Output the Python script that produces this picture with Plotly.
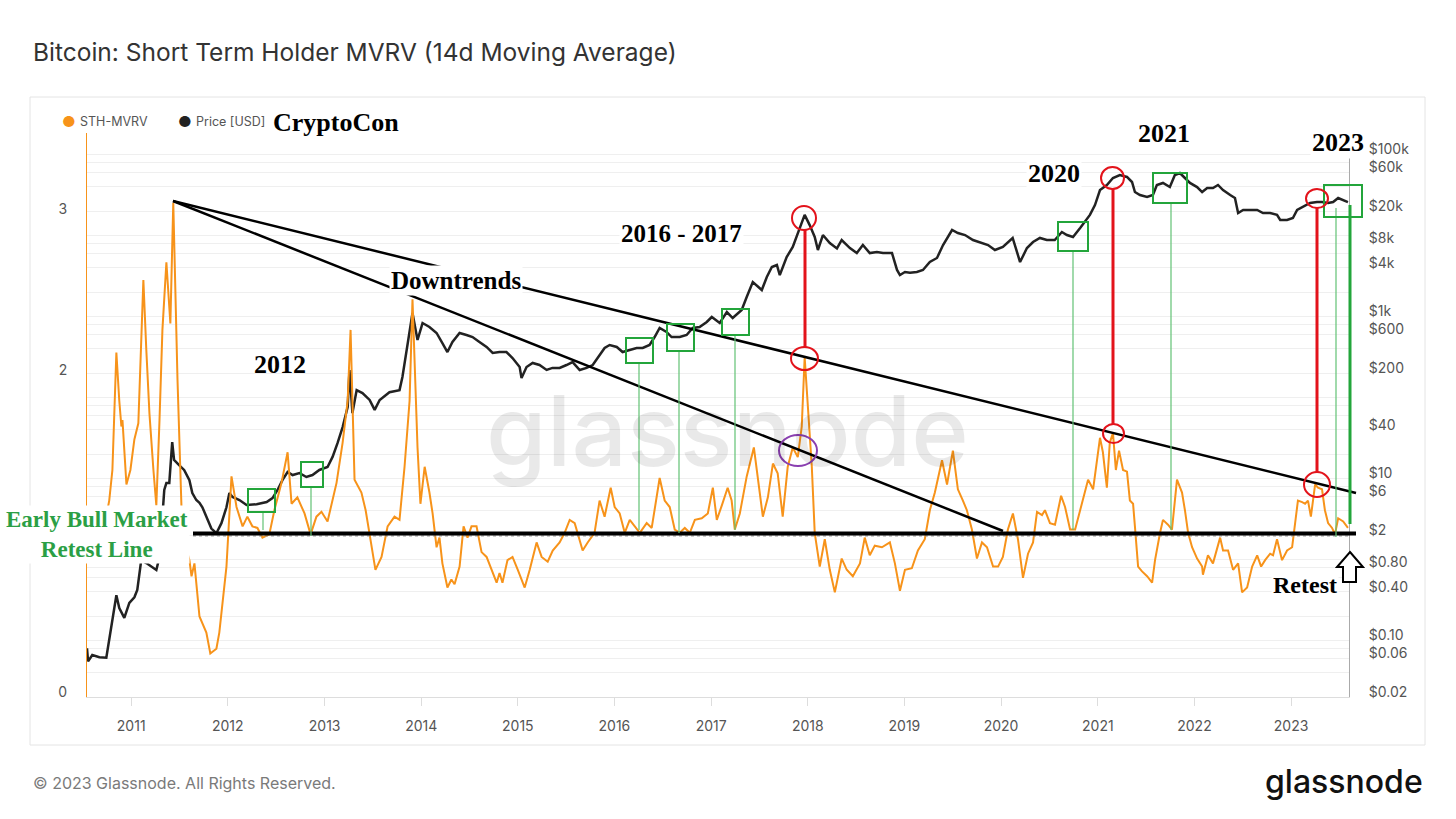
import plotly.graph_objects as go

# STH-MVRV (14d MA)
mvrv_dates = [
    "2010-07-19", "2010-09-03", "2010-10-03", "2010-10-10", "2010-10-22", "2010-11-06", "2010-11-17",
    "2010-11-25", "2010-11-29", "2010-12-14", "2010-12-29", "2011-01-13", "2011-01-28", "2011-02-16",
    "2011-02-27", "2011-03-11", "2011-03-26", "2011-04-06", "2011-04-18", "2011-04-29", "2011-05-14",
    "2011-05-29", "2011-06-09", "2011-06-17", "2011-06-25", "2011-07-10", "2011-07-25", "2011-08-09",
    "2011-08-17", "2011-08-28", "2011-09-16", "2011-10-12", "2011-10-27", "2011-11-19", "2011-11-30",
    "2011-12-27", "2012-01-15", "2012-02-03", "2012-02-26", "2012-03-15", "2012-04-03", "2012-04-22",
    "2012-05-11", "2012-06-06", "2012-06-25", "2012-07-22", "2012-08-14", "2012-08-29", "2012-09-20",
    "2012-10-17", "2012-11-09", "2012-12-01", "2012-12-20", "2013-01-12", "2013-02-15", "2013-03-10",
    "2013-03-29", "2013-04-09", "2013-04-24", "2013-05-20", "2013-06-05", "2013-06-20", "2013-07-12",
    "2013-08-04", "2013-08-27", "2013-09-22", "2013-10-11", "2013-10-30", "2013-11-18", "2013-11-29",
    "2013-12-18", "2013-12-29", "2014-01-14", "2014-02-01", "2014-02-13", "2014-02-28", "2014-03-11",
    "2014-03-22", "2014-04-10", "2014-04-25", "2014-05-07", "2014-05-26", "2014-06-10", "2014-06-25",
    "2014-07-10", "2014-07-29", "2014-08-17", "2014-09-05", "2014-09-24", "2014-10-13", "2014-10-24",
    "2014-11-04", "2014-11-23", "2014-12-12", "2015-01-01", "2015-01-27", "2015-02-15", "2015-03-13",
    "2015-04-01", "2015-04-24", "2015-05-13", "2015-06-08", "2015-06-27", "2015-07-16", "2015-08-04",
    "2015-08-23", "2015-09-03", "2015-09-22", "2015-10-18", "2015-11-06", "2015-11-25", "2015-12-18",
    "2016-01-02", "2016-01-21", "2016-02-09", "2016-02-28", "2016-03-25", "2016-04-06", "2016-05-02",
    "2016-05-21", "2016-06-20", "2016-07-09", "2016-07-28", "2016-08-16", "2016-09-04", "2016-09-23",
    "2016-10-12", "2016-10-31", "2016-11-26", "2016-12-19", "2017-01-07", "2017-01-22", "2017-02-10",
    "2017-03-04", "2017-03-19", "2017-03-31", "2017-04-19", "2017-05-15", "2017-06-11", "2017-06-26",
    "2017-07-15", "2017-08-03", "2017-08-22", "2017-09-09", "2017-09-28", "2017-10-17", "2017-11-05",
    "2017-11-24", "2017-12-09", "2017-12-20", "2018-01-01", "2018-01-16", "2018-01-27", "2018-02-15",
    "2018-03-06", "2018-03-25", "2018-04-13", "2018-05-09", "2018-05-28", "2018-06-20", "2018-07-17",
    "2018-08-04", "2018-08-23", "2018-09-11", "2018-10-08", "2018-11-07", "2018-11-26", "2018-12-15",
    "2019-01-03", "2019-01-29", "2019-02-21", "2019-03-19", "2019-04-07", "2019-04-26", "2019-05-23",
    "2019-06-11", "2019-07-03", "2019-07-22", "2019-08-10", "2019-08-25", "2019-09-13", "2019-10-02",
    "2019-10-21", "2019-11-09", "2019-12-02", "2019-12-21", "2020-01-08", "2020-01-27", "2020-02-15",
    "2020-03-05", "2020-03-24", "2020-04-12", "2020-05-01", "2020-05-16", "2020-06-04", "2020-06-15",
    "2020-07-04", "2020-07-23", "2020-08-15", "2020-08-30", "2020-09-18", "2020-10-07", "2020-10-26",
    "2020-11-25", "2020-12-14", "2020-12-25", "2021-01-09", "2021-01-20", "2021-02-04", "2021-02-15",
    "2021-02-27", "2021-03-10", "2021-03-22", "2021-04-06", "2021-04-21", "2021-05-02", "2021-05-14",
    "2021-05-21", "2021-06-02", "2021-06-17", "2021-07-06", "2021-07-25", "2021-08-05", "2021-08-24",
    "2021-09-04", "2021-09-23", "2021-10-08", "2021-10-27", "2021-11-15", "2021-11-26", "2021-12-08",
    "2021-12-23", "2022-01-11", "2022-01-30", "2022-02-02", "2022-02-21", "2022-03-12", "2022-04-08",
    "2022-04-19", "2022-05-08", "2022-05-27", "2022-06-15", "2022-06-30", "2022-07-19", "2022-08-07",
    "2022-08-26", "2022-09-10", "2022-09-25", "2022-10-14", "2022-10-25", "2022-11-09", "2022-11-28",
    "2022-12-17", "2023-01-05", "2023-01-16", "2023-01-27", "2023-02-12", "2023-02-23", "2023-03-06",
    "2023-03-17", "2023-04-02", "2023-04-13", "2023-04-28", "2023-05-09", "2023-05-21", "2023-06-05",
    "2023-06-16", "2023-06-28", "2023-07-17", "2023-08-04",
]
mvrv_values = [
    0.94, 0.98, 1.16, 1.22, 1.41, 2.14, 1.84,
    1.68, 1.72, 1.32, 1.41, 1.60, 1.70, 2.59,
    2.16, 1.76, 1.41, 1.19, 1.72, 2.28, 2.70,
    2.32, 3.07, 2.53, 1.97, 1.18, 0.94, 0.85,
    0.75, 0.83, 0.50, 0.40, 0.27, 0.30, 0.40,
    0.81, 1.37, 1.18, 1.06, 1.12, 1.06, 1.05,
    0.99, 1.01, 1.16, 1.33, 1.52, 1.20, 1.24,
    1.14, 1.01, 1.12, 1.15, 1.09, 1.33, 1.58,
    1.84, 2.28, 1.35, 1.27, 1.16, 1.01, 0.79,
    0.87, 1.06, 1.12, 1.10, 1.43, 1.84, 2.47,
    1.55, 1.20, 1.43, 1.27, 1.14, 0.93, 0.99,
    0.83, 0.68, 0.73, 0.70, 0.81, 1.06, 0.99,
    1.06, 1.06, 0.90, 0.87, 0.79, 0.71, 0.77,
    0.71, 0.85, 0.87, 0.79, 0.68, 0.79, 0.96,
    0.87, 0.84, 0.91, 0.96, 1.02, 1.10, 1.08,
    0.98, 0.91, 0.96, 1.02, 1.22, 1.12, 1.30,
    1.18, 1.14, 1.02, 1.10, 1.04, 1.02, 1.08,
    1.05, 1.36, 1.22, 1.18, 1.04, 1.02, 1.05,
    1.02, 1.10, 1.11, 1.14, 1.30, 1.10, 1.19,
    1.30, 1.22, 1.04, 1.14, 1.37, 1.55, 1.35,
    1.12, 1.24, 1.45, 1.39, 1.12, 1.43, 1.55,
    1.49, 1.68, 2.11, 1.80, 1.43, 1.02, 0.81,
    0.98, 0.79, 0.65, 0.86, 0.79, 0.75, 0.83,
    0.99, 0.88, 0.94, 0.93, 0.96, 0.83, 0.66,
    0.79, 0.80, 0.91, 0.98, 1.16, 1.27, 1.47,
    1.32, 1.53, 1.29, 1.22, 1.16, 1.04, 0.86,
    0.96, 0.93, 0.81, 0.81, 0.87, 1.04, 1.14,
    0.98, 0.74, 0.89, 0.96, 1.15, 1.13, 1.16,
    1.08, 1.07, 1.25, 1.18, 1.04, 1.04, 1.16,
    1.35, 1.29, 1.43, 1.61, 1.52, 1.30, 1.58,
    1.64, 1.41, 1.53, 1.41, 1.40, 1.22, 1.20,
    1.06, 0.81, 0.78, 0.75, 0.71, 0.85, 1.02,
    1.10, 1.07, 1.04, 1.35, 1.27, 1.16, 1.02,
    0.93, 0.86, 0.81, 0.76, 0.88, 0.83, 0.99,
    0.91, 0.91, 0.79, 0.83, 0.65, 0.68, 0.81,
    0.88, 0.81, 0.85, 0.89, 0.88, 0.98, 0.85,
    0.91, 0.93, 1.06, 1.22, 1.21, 1.20, 1.22,
    1.12, 1.32, 1.30, 1.29, 1.16, 1.08, 1.05,
    1.01, 1.11, 1.09, 1.05,
]

# BTC price in USD
price_dates = [
    "2010-07-18", "2010-07-22", "2010-08-07", "2010-09-03", "2010-09-29", "2010-10-10", "2010-10-22",
    "2010-11-06", "2010-11-17", "2010-12-06", "2010-12-25", "2011-01-13", "2011-01-24", "2011-02-08",
    "2011-02-27", "2011-03-22", "2011-04-06", "2011-04-18", "2011-04-29", "2011-05-06", "2011-05-14",
    "2011-05-25", "2011-06-05", "2011-06-12", "2011-07-01", "2011-07-20", "2011-08-09", "2011-08-20",
    "2011-09-04", "2011-09-16", "2011-09-27", "2011-10-16", "2011-10-31", "2011-11-19", "2011-12-08",
    "2011-12-27", "2012-01-07", "2012-01-19", "2012-02-14", "2012-03-12", "2012-04-19", "2012-05-27",
    "2012-06-18", "2012-07-07", "2012-07-26", "2012-08-14", "2012-09-02", "2012-09-28", "2012-10-24",
    "2012-11-16", "2012-12-12", "2013-01-12", "2013-01-31", "2013-02-19", "2013-03-10", "2013-03-29",
    "2013-04-05", "2013-04-16", "2013-05-02", "2013-05-24", "2013-06-20", "2013-07-09", "2013-07-28",
    "2013-09-03", "2013-10-11", "2013-10-22", "2013-11-10", "2013-11-29", "2013-12-18", "2014-01-06",
    "2014-02-01", "2014-02-28", "2014-03-22", "2014-04-10", "2014-04-29", "2014-05-26", "2014-06-21",
    "2014-07-14", "2014-08-09", "2014-09-05", "2014-09-28", "2014-10-24", "2014-11-19", "2014-12-12",
    "2015-01-08", "2015-01-15", "2015-02-03", "2015-02-26", "2015-03-24", "2015-04-20", "2015-05-12",
    "2015-06-08", "2015-07-04", "2015-07-27", "2015-08-23", "2015-09-18", "2015-10-11", "2015-11-06",
    "2015-11-25", "2015-12-14", "2016-01-10", "2016-02-01", "2016-02-28", "2016-03-25", "2016-04-17",
    "2016-05-13", "2016-06-01", "2016-06-20", "2016-07-16", "2016-08-04", "2016-09-04", "2016-09-30",
    "2016-10-23", "2016-11-18", "2016-12-15", "2017-01-03", "2017-02-02", "2017-03-01", "2017-03-23",
    "2017-04-26", "2017-05-15", "2017-06-07", "2017-07-11", "2017-07-30", "2017-08-18", "2017-09-06",
    "2017-09-17", "2017-10-13", "2017-11-05", "2017-11-24", "2017-12-09", "2017-12-20", "2018-01-08",
    "2018-01-27", "2018-02-08", "2018-02-27", "2018-03-25", "2018-04-21", "2018-05-09", "2018-06-09",
    "2018-07-05", "2018-07-28", "2018-08-23", "2018-09-19", "2018-10-12", "2018-11-15", "2018-12-04",
    "2018-12-15", "2019-01-03", "2019-01-22", "2019-02-17", "2019-03-12", "2019-04-07", "2019-05-04",
    "2019-05-27", "2019-06-30", "2019-07-22", "2019-08-18", "2019-09-17", "2019-10-21", "2019-11-13",
    "2019-12-09", "2020-01-08", "2020-02-14", "2020-03-13", "2020-04-08", "2020-05-01", "2020-05-27",
    "2020-06-22", "2020-07-22", "2020-08-18", "2020-09-06", "2020-09-29", "2020-10-26", "2020-11-17",
    "2020-12-02", "2020-12-21", "2021-01-09", "2021-02-04", "2021-02-27", "2021-03-25", "2021-04-21",
    "2021-05-10", "2021-05-21", "2021-06-09", "2021-07-06", "2021-07-28", "2021-08-12", "2021-09-04",
    "2021-09-30", "2021-10-19", "2021-11-07", "2021-11-26", "2021-12-15", "2022-01-11", "2022-01-30",
    "2022-02-18", "2022-03-12", "2022-03-31", "2022-04-19", "2022-05-16", "2022-06-03", "2022-06-15",
    "2022-07-04", "2022-07-30", "2022-08-26", "2022-09-17", "2022-10-14", "2022-11-09", "2022-11-21",
    "2022-12-17", "2023-01-08", "2023-01-24", "2023-02-15", "2023-03-14", "2023-04-09", "2023-04-28",
    "2023-05-21", "2023-06-09", "2023-06-28", "2023-07-17", "2023-08-04",
]
price_values = [
    0.08, 0.055, 0.066, 0.062, 0.061, 0.10, 0.19,
    0.36, 0.25, 0.19, 0.29, 0.34, 0.42, 0.98,
    0.90, 0.80, 0.74, 1.07, 3.1, 7.2, 8.8,
    8.8, 28.1, 16.9, 14.6, 12.7, 9.5, 6.6,
    5.4, 5.0, 4.4, 3.1, 2.4, 2.1, 2.8,
    4.4, 6.6, 5.9, 5.4, 4.7, 4.8, 5.1,
    5.7, 7.2, 9.6, 12.0, 11.0, 11.6, 10.4,
    11.0, 12.7, 13.8, 18.4, 27.4, 43, 76,
    218, 64, 123, 113, 93, 70, 93,
    116, 123, 179, 419, 1100, 511, 828,
    739, 624, 469, 363, 483, 624, 589,
    556, 483, 419, 353, 363, 363, 306,
    237, 173, 237, 266, 251, 218, 231,
    231, 251, 273, 218, 231, 251, 334,
    407, 443, 419, 363, 384, 407, 407,
    443, 556, 719, 642, 556, 556, 589,
    719, 739, 853, 983, 828, 1132, 955,
    1200, 1735, 2656, 2117, 3064, 4070, 4310,
    3240, 5400, 7190, 10700, 14600, 17900, 13400,
    9560, 6600, 10100, 8050, 6900, 8770, 6980,
    6050, 7600, 6050, 6230, 6050, 6050, 3740,
    3240, 3530, 3450, 3530, 3740, 4690, 5260,
    7600, 11650, 10700, 10100, 8770, 8050, 7600,
    6600, 7190, 9290, 4690, 6980, 8280, 9290,
    8770, 8770, 11000, 10100, 9560, 12300, 15500,
    17900, 23700, 36300, 41900, 51100, 55600, 52600,
    45600, 34300, 31500, 29800, 31500, 41900, 44400,
    39500, 55600, 58900, 51100, 44400, 39500, 34300,
    38400, 38400, 41900, 36300, 31500, 28900, 18900,
    20600, 20600, 20600, 18900, 18900, 17900, 15500,
    15500, 16400, 20600, 22400, 25100, 25800, 25800,
    25100, 25800, 28900, 27400, 25800,
]

year_ticks = ["2011-01-01", "2012-01-01", "2013-01-01", "2014-01-01", "2015-01-01", "2016-01-01", "2017-01-01",
              "2018-01-01", "2019-01-01", "2020-01-01", "2021-01-01", "2022-01-01", "2023-01-01"]
year_labels = ["2011", "2012", "2013", "2014", "2015", "2016", "2017",
               "2018", "2019", "2020", "2021", "2022", "2023"]
mvrv_ticks = [0, 2, 3]  # the "1" label sits under the green note in the original
price_grid = [0.02, 0.04, 0.06, 0.08, 0.1, 0.2, 0.4, 0.6, 0.8, 1, 2, 4, 6, 8, 10, 20, 40, 60, 80, 100,
              200, 400, 600, 800, 1000, 2000, 4000, 6000, 8000, 10000, 20000, 40000, 60000, 80000, 100000]
price_text = ["$0.02", "", "$0.06", "", "$0.10", "", "$0.40", "", "$0.80", "", "$2", "", "$6", "", "$10", "",
              "$40", "", "", "", "$200", "", "$600", "", "$1k", "", "$4k", "", "$8k", "", "$20k", "",
              "$60k", "", "$100k"]

ORANGE = "#f7931a"
DARK = "#222222"
RED = "#e3131b"
GREEN = "#23a53b"
LIGHTGREEN = "#62c174"
SERIF = "Liberation Serif"
SANS = "Inter"

# the overlay drawing is placed by picture pixels, plot area = x 87..1349, y 133..697
L, R, T, B = 87, 1349, 133, 697


def fx(x):
    return (x - L) / (R - L)


def fy(y):
    return (B - y) / (B - T)


def seg(x0, y0, x1, y1, color, width, dash=None):
    return dict(type="line", xref="paper", yref="paper", x0=fx(x0), y0=fy(y0), x1=fx(x1), y1=fy(y1),
                line=dict(color=color, width=width, dash=dash))


def box(x0, y0, x1, y1, color, width, kind="rect"):
    return dict(type=kind, xref="paper", yref="paper", x0=fx(x0), y0=fy(y0), x1=fx(x1), y1=fy(y1),
                line=dict(color=color, width=width), fillcolor="rgba(0,0,0,0)")


def text(x, y, s, size, color="black", family=SERIF, weight=700, bg=None, xanchor="center"):
    return dict(xref="paper", yref="paper", x=fx(x), y=fy(y), text=s, showarrow=False,
                xanchor=xanchor, yanchor="middle", bgcolor=bg, borderpad=1,
                font=dict(family=family, size=size, color=color, weight=weight))


fig = go.Figure()
fig.add_trace(go.Scatter(x=price_dates, y=price_values, mode="lines", name="Price [USD]",
                         line=dict(color=DARK, width=2.5), yaxis="y"))
fig.add_trace(go.Scatter(x=mvrv_dates, y=mvrv_values, mode="lines", name="STH-MVRV",
                         line=dict(color=ORANGE, width=2), yaxis="y2"))

shapes = [
    # card border
    dict(type="rect", xref="paper", yref="paper", x0=fx(30), y0=fy(97), x1=fx(1425), y1=fy(745),
         line=dict(color="#e4e4e4", width=1), layer="below"),
    seg(193, 536, 1349, 536, "#9a9a9a", 1, "dot"),
    seg(193, 533.5, 1356, 533.5, "black", 4),
    seg(173, 201, 1356, 493, "black", 2.5),
    seg(173, 201, 1003, 531, "black", 2.5),
    # green guides
    seg(263, 512, 263, 530, LIGHTGREEN, 1.2),
    seg(311, 487, 311, 536, LIGHTGREEN, 1.2),
    seg(639, 363, 639, 530, LIGHTGREEN, 1.2),
    seg(679, 351, 679, 533, LIGHTGREEN, 1.2),
    seg(735, 335, 735, 530, LIGHTGREEN, 1.2),
    seg(1073, 251, 1073, 530, LIGHTGREEN, 1.2),
    seg(1171, 203, 1171, 530, LIGHTGREEN, 1.2),
    seg(1336, 208, 1336, 537, LIGHTGREEN, 1.2),
    seg(1350, 205, 1350, 524, GREEN, 3),
    box(248, 489, 275, 512, GREEN, 2),
    box(301, 462, 323, 487, GREEN, 2),
    box(626, 338, 653, 363, GREEN, 2),
    box(667, 324, 694, 351, GREEN, 2),
    box(722, 309, 749, 335, GREEN, 2),
    box(1058, 222, 1088, 251, GREEN, 2),
    box(1153, 173, 1187, 203, GREEN, 2),
    box(1324, 185, 1362, 217, GREEN, 2),
    # red tops
    seg(805, 230, 805, 347, RED, 3),
    seg(1113, 189, 1113, 424, RED, 3),
    seg(1317, 208, 1317, 472, RED, 3),
    box(792, 206, 816, 230, RED, 2, "circle"),
    box(791, 347, 818, 370, RED, 2, "circle"),
    box(1101, 167, 1124, 189, RED, 2, "circle"),
    box(1103, 424, 1124, 443, RED, 2, "circle"),
    box(1306, 189, 1328, 208, RED, 2, "circle"),
    box(1304, 472, 1330, 497, RED, 2, "circle"),
    box(779, 435, 817, 466, "#8a3fb0", 2, "circle"),
]

# hollow up arrow next to "Retest"
arrow = [(1350, 552), (1363, 567), (1356, 567), (1356, 582), (1343, 582), (1343, 567), (1337, 567)]
path = "M " + " L ".join(f"{fx(x):.5f},{fy(y):.5f}" for x, y in arrow) + " Z"
shapes.append(dict(type="path", xref="paper", yref="paper", path=path,
                   line=dict(color="black", width=2), fillcolor="white"))

annotations = [
    text(31, 52, "Bitcoin: Short Term Holder MVRV (14d Moving Average)", 24.5, "#333333", SANS, 400,
         xanchor="left"),
    text(727, 430, "glassnode", 98, "rgba(0,0,0,0.085)", SANS, 500),
    text(31, 783, "© 2023 Glassnode. All Rights Reserved.", 16, "#7a7a7a", SANS, 400, xanchor="left"),
    text(1425, 781, "glassnode", 32, "#111111", SANS, 500, xanchor="right"),
    text(69, 121, "●", 15, ORANGE, SANS, 400),
    text(78, 121, "STH-MVRV", 12.5, "#555555", SANS, 400, xanchor="left"),
    text(185, 121, "●", 15, DARK, SANS, 400),
    text(194, 121, "Price [USD]", 12.5, "#555555", SANS, 400, xanchor="left"),
    text(336, 122, "CryptoCon", 26, bg="white"),
    text(280, 364, "2012", 26),
    text(456, 280, "Downtrends", 25, bg="white"),
    text(681, 233, "2016 - 2017", 25, bg="white"),
    text(1054, 174, "2020", 26, bg="white"),
    text(1164, 133, "2021", 26, bg="white"),
    text(1338, 143, "2023", 26, bg="white"),
    text(1305, 585, "Retest", 24, bg="white"),
    text(97, 534, "Early Bull Market<br>Retest Line", 23, "#2b9f45", bg="white"),
]

fig.update_layout(
    width=1456, height=819,
    margin=dict(l=L, r=1456 - R, t=T, b=819 - B),
    paper_bgcolor="white", plot_bgcolor="white",
    showlegend=False,
    font=dict(family=SANS, color="#555555", size=14),
    xaxis=dict(type="date", range=["2010-07-18", "2023-08-08"], tickvals=year_ticks, ticktext=year_labels,
               ticks="outside", ticklen=8, tickcolor="#dddddd", showgrid=False, zeroline=False,
               showline=True, linecolor="#dddddd", ticklabelstandoff=8,
               tickfont=dict(size=14, color="#555555"), automargin=False),
    yaxis=dict(type="log", side="right", range=[-1.69897, 5.26399], tickvals=price_grid, ticktext=price_text,
               showgrid=True, gridcolor="#efefef", zeroline=False, showline=True, linecolor="#aaaaaa",
               ticks="", ticklabelstandoff=16, ticklabelshift=-5,
               tickfont=dict(size=14, color="#555555"), automargin=False),
    yaxis2=dict(overlaying="y", side="left", range=[0, 3.503], tickvals=mvrv_ticks,
                showgrid=False, zeroline=False, showline=True, linecolor=ORANGE,
                ticks="", ticklabelstandoff=16, ticklabelshift=-5,
                tickfont=dict(size=14, color="#555555"), automargin=False),
    shapes=shapes,
    annotations=annotations,
)

# page margin off so the chart sits at the window's corner
fig.write_html("out.html", config={"displayModeBar": False},
               post_script="document.body.style.margin='0';")
